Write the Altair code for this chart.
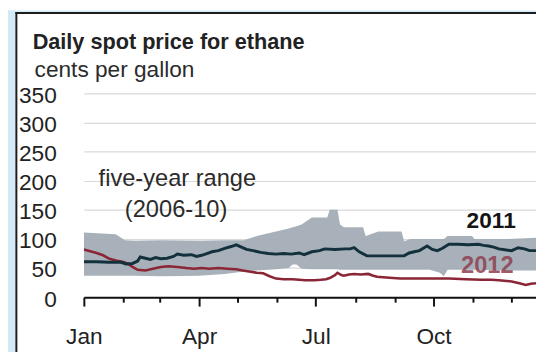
import altair as alt
import pandas as pd

# ---------------- data ----------------
month_days = [0, 31, 59, 90, 120, 151, 181, 212, 243, 273, 304, 334]
quarter_days = [0, 90, 181, 273]
quarter_names = ["Jan", "Apr", "Jul", "Oct"]
y_ticks = [0, 50, 100, 150, 200, 250, 300, 350]

band_day = [0, 25, 32, 40, 60, 90, 110, 125, 135, 150, 160, 163, 166, 170, 178,
            190, 192, 198, 200, 203, 218, 220, 230, 248, 250, 255, 270, 278, 281,
            284, 303, 305, 330, 353]
band_hi = [111, 108, 98, 97, 98, 97, 98, 98, 105, 113, 118, 120, 122, 125, 137,
           137, 150, 150, 125, 120, 120, 105, 113, 113, 96, 100, 100, 100, 100,
           105, 105, 100, 100, 102]
band_lo = [37, 37, 37, 37, 36, 37, 40, 44, 46, 48, 50, 56, 56, 49, 48,
           48, 48, 48, 47, 47, 47, 47, 47, 47, 47, 47, 47, 42, 36,
           47, 47, 47, 46, 46]

d2011_day = [0, 10, 20, 29, 33, 38, 42, 44, 48, 52, 56, 60, 65, 70, 73, 78, 84, 88,
             92, 96, 100, 105, 110, 115, 119, 123, 127, 132, 138, 144, 150, 156,
             162, 168, 172, 178, 184, 188, 196, 204, 208, 211, 215, 221, 230, 240,
             250, 254, 258, 262, 265, 268, 272, 276, 280, 285, 292, 300, 308, 312,
             316, 320, 324, 330, 334, 339, 344, 348, 353]
d2011_val = [61, 61, 60, 60, 57, 58, 62, 69, 67, 65, 68, 66, 67, 70, 74, 72, 73, 70,
             72, 75, 78, 80, 84, 87, 90, 86, 82, 80, 77, 75, 74, 75,
             74, 76, 73, 78, 80, 83, 82, 83, 83, 85, 78, 71, 71, 71,
             71, 76, 78, 80, 84, 88, 82, 80, 84, 91, 91, 90, 91, 89,
             88, 86, 83, 81, 80, 85, 83, 80, 80]

d2012_day = [0, 5, 10, 15, 20, 25, 30, 34, 38, 42, 48, 54, 60, 66, 73, 80, 86, 92,
             98, 105, 112, 119, 124, 129, 135, 140, 145, 150, 156, 163, 168, 173,
             180, 185, 189, 192, 196, 198, 201, 203, 207, 211, 216, 222, 226, 229,
             236, 247, 255, 265, 272, 285, 298, 310, 318, 324, 330, 334, 340, 345,
             349, 353]
d2012_val = [82, 79, 76, 72, 66, 63, 61, 58, 52, 47, 46, 49, 52, 53, 52, 50, 49, 50,
             49, 50, 49, 48, 46, 44, 42, 41, 36, 32, 31, 31, 30, 29,
             29, 30, 31, 33, 38, 42, 38, 37, 39, 40, 39, 40, 37, 35,
             34, 32, 32, 32, 32, 32, 31, 30, 30, 29, 28, 27, 24, 21,
             23, 24]

note_text = ["five-year range", "(2006-10)"]
note_day = [73, 72]
note_val = [191, 137]

# ---------------- tables ----------------
band = pd.DataFrame({"day": band_day, "hi": band_hi, "lo": band_lo})
s2011 = pd.DataFrame({"day": d2011_day, "value": d2011_val})
s2012 = pd.DataFrame({"day": d2012_day, "value": d2012_val})
notes = pd.DataFrame({"day": note_day, "value": note_val, "label": note_text})
lab2011 = pd.DataFrame({"day": [318], "value": [118], "label": ["2011"]})
lab2012 = pd.DataFrame({"day": [315], "value": [42], "label": ["2012"]})
one = pd.DataFrame({"k": [0]})

W, H = 459, 207
SANS = "Liberation Sans, Arial, sans-serif"

label_expr = " : ".join(
    f"datum.value == {d} ? '{n}'" for d, n in zip(quarter_days, quarter_names)
) + " : ''"
quarter_test = "indexof([" + ",".join(str(d) for d in quarter_days) + "], datum.value) >= 0"

x_scale = alt.Scale(domain=[0, 353], nice=False, zero=False)
y_scale = alt.Scale(domain=[0, 350], nice=False)

x_axis = alt.Axis(
    values=month_days,
    labelExpr=label_expr,
    title=None,
    grid=False,
    domainColor="#111111",
    domainWidth=2,
    tickColor="#111111",
    tickWidth=2,
    tickSize={"condition": {"test": quarter_test, "value": 9}, "value": 5},
    labelFont=SANS,
    labelFontSize=23,
    labelColor="#222222",
    labelBaseline="alphabetic",
    labelPadding=38,
    labelOverlap=False,
    labelFlush=False,
)
y_axis = alt.Axis(
    values=y_ticks,
    title=None,
    grid=True,
    gridColor="#d9d9d9",
    gridWidth=1.2,
    domain=False,
    ticks=False,
    tickSize=0,
    labelFont=SANS,
    labelFontSize=23,
    labelColor="#222222",
    labelPadding=28,
    labelOffset=2,
    labelOverlap=False,
)


def X(field="day:Q"):
    return alt.X(field, scale=x_scale, axis=x_axis)


def Y(field="value:Q"):
    return alt.Y(field, scale=y_scale, axis=y_axis)


band_layer = alt.Chart(band).mark_area(color="#a3adb5", opacity=0.95, clip=True).encode(
    x=X(), y=Y("hi:Q"), y2="lo:Q"
)
line2012 = alt.Chart(s2012).mark_line(color="#8a2636", strokeWidth=2.6, clip=True).encode(
    x=X(), y=Y()
)
line2011 = alt.Chart(s2011).mark_line(color="#13303d", strokeWidth=3, clip=True).encode(
    x=X(), y=Y()
)
note_layer = alt.Chart(notes).mark_text(
    font=SANS, fontSize=24, color="#2b2b2b", align="center", baseline="alphabetic"
).encode(x=X(), y=Y(), text="label:N")
t2011 = alt.Chart(lab2011).mark_text(
    font=SANS, fontSize=23, fontWeight="bold", color="#151515", align="center", baseline="alphabetic"
).encode(x=X(), y=Y(), text="label:N")
t2012 = alt.Chart(lab2012).mark_text(
    font=SANS, fontSize=24, fontWeight="bold", color="#8e4150", opacity=0.85,
    align="center", baseline="alphabetic"
).encode(x=X(), y=Y(), text="label:N")

# frame decoration (light-blue margin and dark border around the white card)
blue = "#d4eaf9"
left_blue = alt.Chart(one).mark_rect(color=blue).encode(
    x=alt.value(-77), x2=alt.value(-69.5), y=alt.value(-84), y2=alt.value(H + 60))
top_blue = alt.Chart(one).mark_rect(color=blue).encode(
    x=alt.value(-77), x2=alt.value(W + 10), y=alt.value(-84), y2=alt.value(-82.5))
left_border = alt.Chart(one).mark_rect(color="#1d1d1d").encode(
    x=alt.value(-69.5), x2=alt.value(-67.5), y=alt.value(-82.5), y2=alt.value(H + 60))
top_border = alt.Chart(one).mark_rect(color="#1d1d1d").encode(
    x=alt.value(-69.5), x2=alt.value(W + 10), y=alt.value(-82.5), y2=alt.value(-80.5))

title = alt.Chart(one).mark_text(
    text="Daily spot price for ethane", font=SANS, fontSize=22, fontWeight="bold",
    color="#222222", align="left", baseline="alphabetic"
).encode(x=alt.value(-52), y=alt.value(-45))
subtitle = alt.Chart(one).mark_text(
    text="cents per gallon", font=SANS, fontSize=23, color="#2b2b2b",
    align="left", baseline="alphabetic"
).encode(x=alt.value(-50), y=alt.value(-17))

chart = alt.layer(
    band_layer, line2012, line2011, note_layer, t2011, t2012,
    left_blue, top_blue, left_border, top_border, title, subtitle
).properties(
    width=W,
    height=H,
    padding={"left": 77, "top": 84, "right": 0, "bottom": 53},
    autosize=alt.AutoSizeParams(type="none"),
    background="white",
).configure_view(stroke=None)

chart.save("out.html", embed_options={"renderer": "svg", "actions": False})
